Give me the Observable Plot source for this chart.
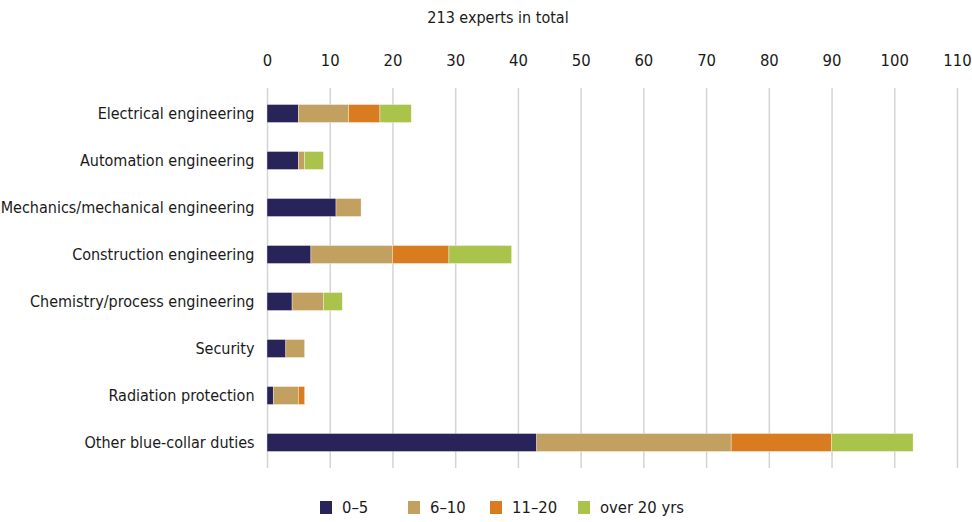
<!DOCTYPE html>
<html>
<head>
<meta charset="utf-8">
<script src="https://cdn.jsdelivr.net/npm/d3@7"></script>
<script src="https://cdn.jsdelivr.net/npm/@observablehq/plot@0.6"></script>
<style>
  html, body { margin: 0; padding: 0; background: #fff; }
  body { font-family: "DejaVu Sans", sans-serif; font-stretch: condensed; color: #1a1a1a; }
  #wrap { position: relative; width: 972px; height: 522px; overflow: hidden; }
  #title { position: absolute; left: 0; top: 8px; width: 996px; text-align: center; font-size: 16px; }
  #legend { position: absolute; top: 498px; left: 0; width: 972px; height: 22px; font-size: 16.5px; }
  .lg { position: absolute; display: flex; align-items: center; white-space: nowrap; }
  .sw { width: 12px; height: 13px; margin-right: 10px; }
  svg text { fill: #1a1a1a; font-stretch: condensed; }
</style>
</head>
<body>
<div id="wrap">
  <div id="title">213 experts in total</div>
  <div id="chart"></div>
  <div id="legend"></div>
</div>
<script>
const categories = [
  "Electrical engineering",
  "Automation engineering",
  "Mechanics/mechanical engineering",
  "Construction engineering",
  "Chemistry/process engineering",
  "Security",
  "Radiation protection",
  "Other blue-collar duties"
];
const seriesNames = ["0–5", "6–10", "11–20", "over 20 yrs"];
const values0to5   = [5, 5, 11, 7, 4, 3, 1, 43];
const values6to10  = [8, 1, 4, 13, 5, 3, 4, 31];
const values11to20 = [5, 0, 0, 9, 0, 0, 1, 16];
const valuesOver20 = [5, 3, 0, 10, 3, 0, 0, 13];
const seriesColors = ["#28245A", "#C1A060", "#D97B1F", "#AAC44B"];
const xTicks = [0, 10, 20, 30, 40, 50, 60, 70, 80, 90, 100, 110];

const seriesValues = [values0to5, values6to10, values11to20, valuesOver20];
const data = [];
seriesNames.forEach((s, si) => {
  categories.forEach((c, ci) => {
    data.push({category: c, series: s, value: seriesValues[si][ci]});
  });
});

const chart = Plot.plot({
  width: 972,
  height: 522,
  marginTop: 88,
  marginBottom: 54,
  marginLeft: 267,
  marginRight: 15,
  style: {fontFamily: '"DejaVu Sans", sans-serif', fontSize: "16px", background: "#fff"},
  x: {domain: [0, 110], axis: null, label: null},
  y: {domain: categories, padding: 0, axis: null, label: null},
  color: {domain: seriesNames, range: seriesColors},
  marks: [
    Plot.gridX(xTicks, {stroke: "#d4d4d4", strokeOpacity: 1, strokeWidth: 1.5}),
    Plot.barX(data, Plot.stackX({
      x: "value", y: "category", fill: "series",
      order: seriesNames,
      insetTop: 14.5, insetBottom: 14.5,
      stroke: "#fff", strokeWidth: 0.6, strokeOpacity: 0.6
    })),
    Plot.axisX(xTicks, {anchor: "top", label: null, tickSize: 0, tickPadding: 23, fontSize: 16.5, tickFormat: d => String(d)}),
    Plot.axisY(categories, {anchor: "left", label: null, tickSize: 0, tickPadding: 13, fontSize: 16})
  ]
});
document.getElementById("chart").appendChild(chart);

const legend = document.getElementById("legend");
const legendX = [320, 408, 490, 578];
seriesNames.forEach((s, i) => {
  const item = document.createElement("div");
  item.className = "lg";
  item.style.left = legendX[i] + "px";
  const sw = document.createElement("span");
  sw.className = "sw";
  sw.style.background = seriesColors[i];
  const tx = document.createElement("span");
  tx.textContent = s;
  item.appendChild(sw);
  item.appendChild(tx);
  legend.appendChild(item);
});
</script>
</body>
</html>
